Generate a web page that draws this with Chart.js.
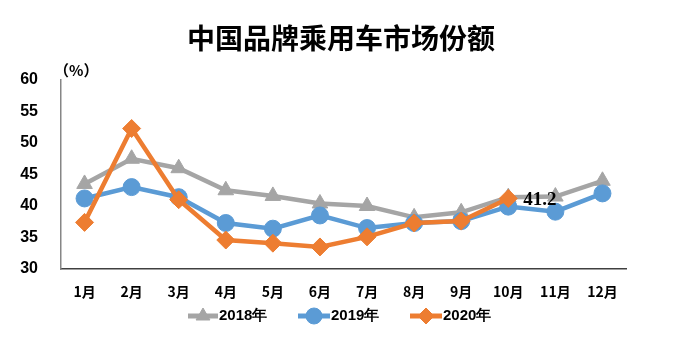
<!DOCTYPE html>
<html>
<head>
<meta charset="utf-8">
<script src="https://cdn.jsdelivr.net/npm/chart.js@4/dist/chart.umd.min.js"></script>
<style>
  html, body { margin: 0; padding: 0; background: #fff; }
  #wrap { width: 681px; height: 344px; }
</style>
</head>
<body>
<div id="wrap"><canvas id="chart"></canvas></div>
<script>
const months = ['1月', '2月', '3月', '4月', '5月', '6月', '7月', '8月', '9月', '10月', '11月', '12月'];
const share2018 = [43.5, 47.5, 46.0, 42.5, 41.6, 40.4, 40.0, 38.2, 39.0, 41.4, 41.5, 44.0];
const share2019 = [41.2, 43.0, 41.4, 37.3, 36.4, 38.5, 36.5, 37.3, 37.6, 39.9, 39.1, 42.0];
const share2020 = [37.4, 52.3, 41.0, 34.6, 34.1, 33.5, 35.1, 37.3, 37.6, 41.2];
const seriesNames = ['2018年', '2019年', '2020年'];
const colors = ['#A5A5A5', '#5B9BD5', '#ED7D31'];
const markers = ['triangle', 'circle', 'rectRot'];
const labelIndex = 9; // 41.2 shown on 10月 of 2020

const mkSet = (i, data, order, radius) => ({
  label: seriesNames[i],
  data: data,
  borderColor: colors[i],
  backgroundColor: colors[i],
  borderWidth: 4.5,
  pointStyle: markers[i],
  pointRadius: radius,
  pointBorderWidth: 1,
  pointBackgroundColor: colors[i],
  pointBorderColor: colors[i],
  tension: 0,
  order: order,
});

// title, legend and the single data label
const extras = {
  id: 'extras',
  afterDraw(chart) {
    const ctx = chart.ctx;
    ctx.save();
    ctx.fillStyle = '#000';
    ctx.textAlign = 'center';
    ctx.textBaseline = 'middle';
    ctx.font = 'bold 28px "Noto Sans CJK SC"';
    ctx.fillText('中国品牌乘用车市场份额', 341, 38);

    ctx.font = 'bold 15px "Noto Sans CJK SC"';
    ctx.textAlign = 'left';
    ctx.fillText('（%）', 54, 70);

    // data label
    const x = chart.scales.x.getPixelForValue(labelIndex);
    const y = chart.scales.y.getPixelForValue(share2020[labelIndex]);
    ctx.font = 'bold 19px "Liberation Serif"';
    ctx.fillText(share2020[labelIndex].toFixed(1), x + 15, y + 2);

    // legend: line + marker + text
    const items = [[188, 218], [298, 330], [410, 442]];
    const ly = 316;
    items.forEach((it, i) => {
      ctx.strokeStyle = colors[i];
      ctx.lineWidth = 5;
      ctx.beginPath();
      ctx.moveTo(it[0], ly);
      ctx.lineTo(it[1], ly);
      ctx.stroke();
      ctx.fillStyle = colors[i];
      ctx.strokeStyle = colors[i];
      ctx.lineWidth = 1;
      Chart.helpers.drawPoint(ctx, { pointStyle: markers[i], radius: 8, rotation: 0, borderWidth: 1 }, (it[0] + it[1]) / 2, ly);
      ctx.fillStyle = '#000';
      ctx.font = 'bold 15px "Liberation Sans"';
      ctx.textAlign = 'left';
      ctx.fillText(seriesNames[i], it[1] + 1, ly);
    });
    ctx.restore();
  }
};

new Chart(document.getElementById('chart'), {
  type: 'line',
  data: {
    labels: months,
    datasets: [
      mkSet(0, share2018, 3, 9),
      mkSet(1, share2019, 2, 8.5),
      mkSet(2, share2020, 1, 9),
    ],
  },
  options: {
    responsive: true,
    maintainAspectRatio: false,
    animation: false,
    layout: { padding: { top: 80, right: 55, left: 0, bottom: 0 } },
    plugins: {
      legend: { display: false },
      title: { display: false },
      tooltip: { enabled: false },
    },
    scales: {
      x: {
        offset: true,
        grid: { display: false, drawTicks: false },
        border: { color: '#404040', width: 1.5 },
        ticks: {
          color: '#000',
          padding: 14,
          font: { family: '"Noto Sans CJK SC"', size: 14, weight: 'bold' },
          maxRotation: 0,
        },
        afterFit: (s) => { s.height = 75; },
      },
      y: {
        min: 30,
        max: 60,
        grid: { display: false, drawTicks: false },
        border: { color: '#868686', width: 1.5 },
        ticks: {
          stepSize: 5,
          color: '#000',
          padding: 23,
          font: { family: '"Liberation Sans"', size: 16, weight: 'bold' },
        },
        afterFit: (s) => { s.width = 61; },
      },
    },
  },
  plugins: [extras],
});
</script>
</body>
</html>
